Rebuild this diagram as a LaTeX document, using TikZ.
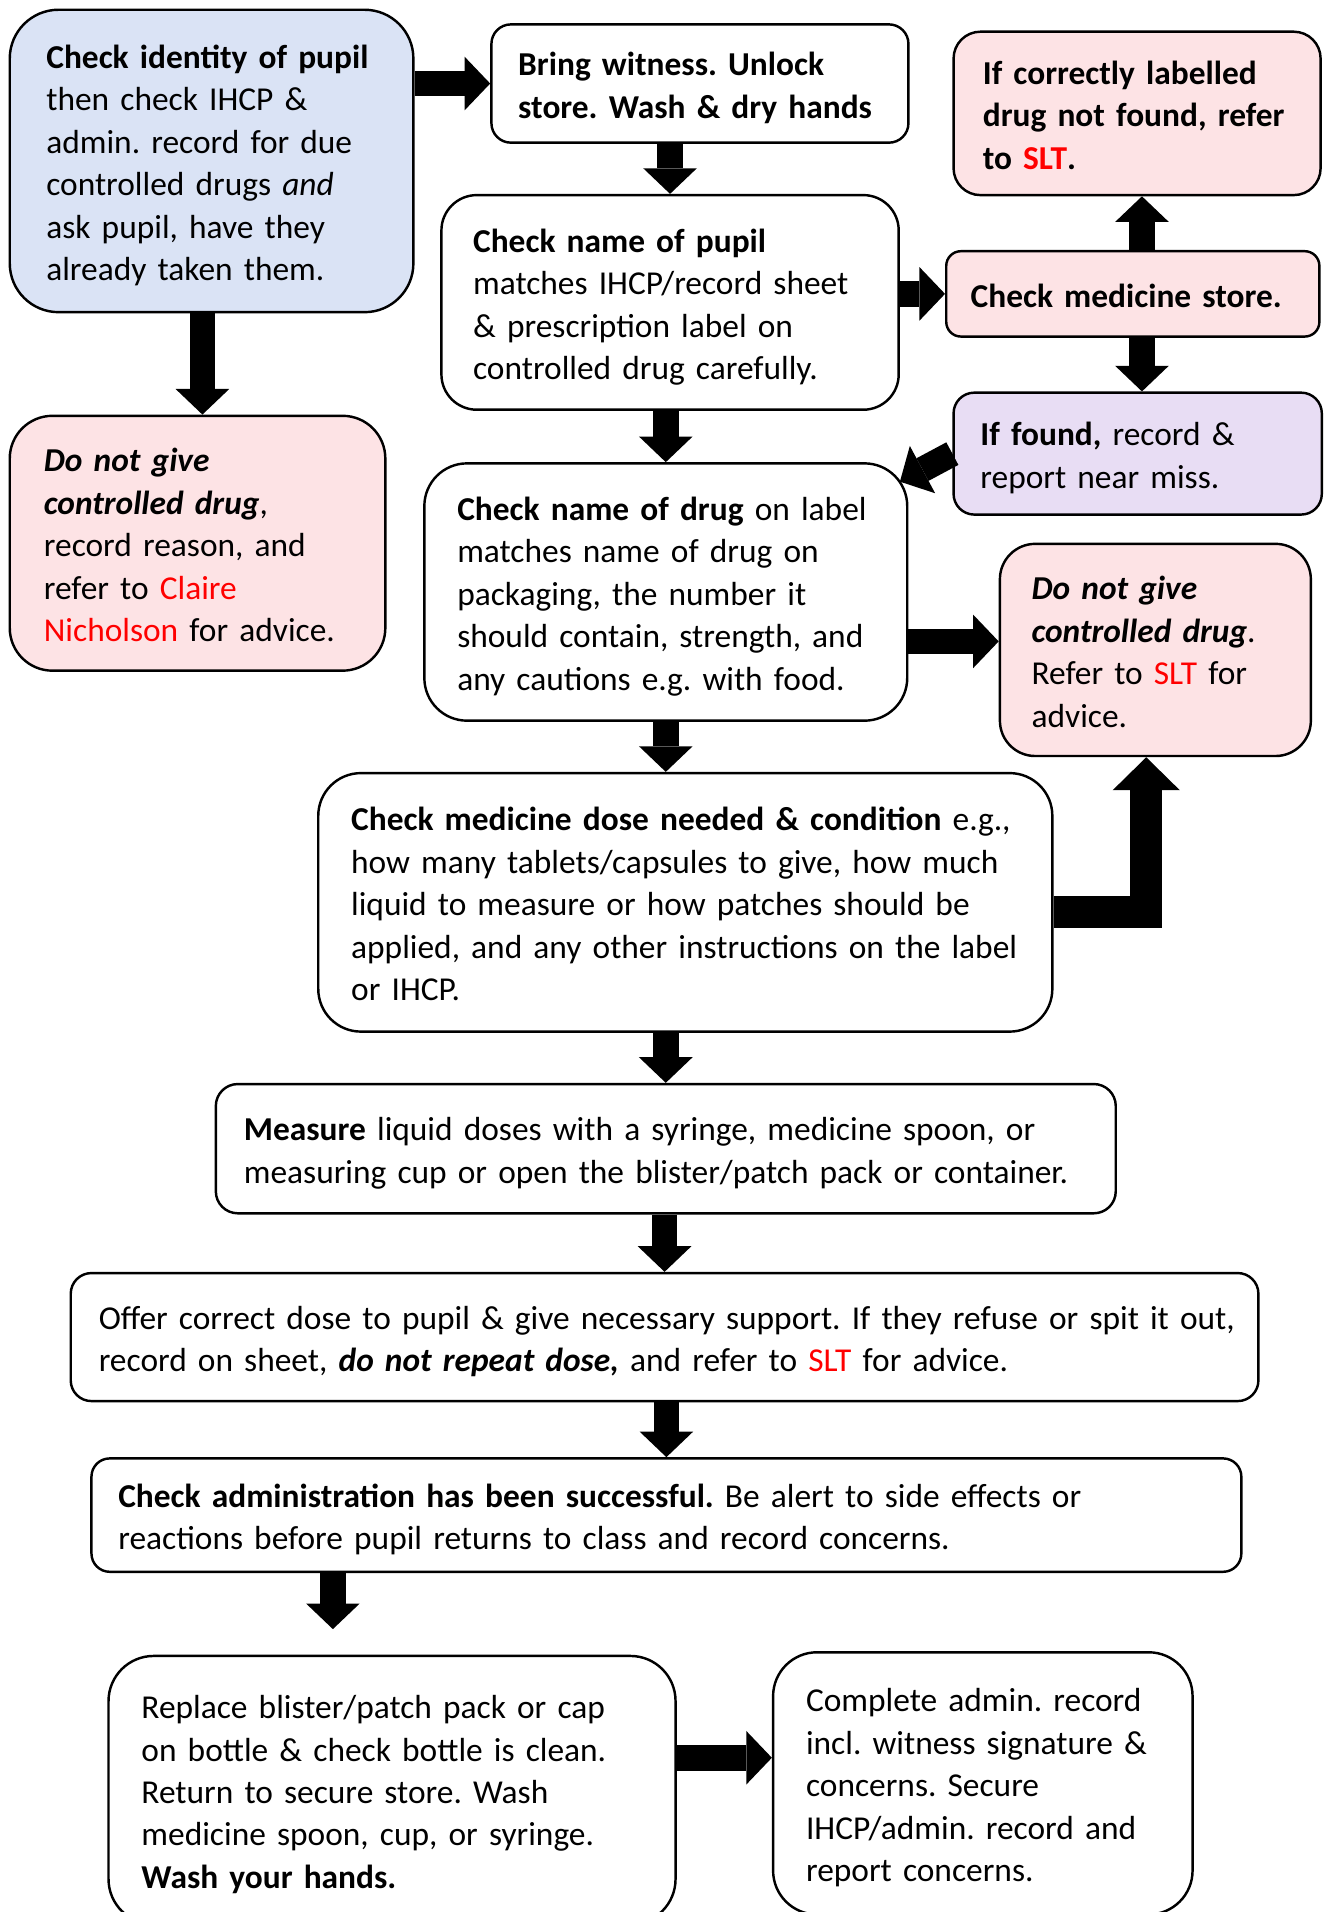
\documentclass[tikz,border=0pt]{standalone}
\usepackage{fontspec}
\setmainfont{Carlito}
\usepackage{xcolor}
\usepackage{tikz}
\usetikzlibrary{arrows.meta}
\definecolor{boxblue}{RGB}{218,227,245}
\definecolor{boxpink}{RGB}{253,227,229}
\definecolor{boxlilac}{RGB}{232,221,244}
\newcommand{\redtext}[1]{\textcolor{red}{#1}}
\frenchspacing
\hyphenpenalty=10000

\begin{document}
\begin{tikzpicture}[x=1pt, y=-1pt,
    box/.style={draw, line width=2pt, align=left, inner ysep=0pt,
        font=\fontsize{27.4}{34.8}\selectfont,
        execute at begin node={\rightskip=0pt plus 1fil minus 1000pt\rule{0pt}{32.4pt}},
        execute at end node={\rule[-10.4pt]{0pt}{10.4pt}}},
    flow/.style={line width=21pt, -{Triangle[width=44pt, length=21pt, line width=0pt]}},
    elbowflow/.style={line width=26pt, -{Triangle[width=55pt, length=27pt, line width=0pt]}}]
    \useasboundingbox (0, 0) rectangle (1087, 1568);
    \clip (0, 0) rectangle (1087, 1568);

    \node[box, fill=boxblue, rounded corners=40pt, text width=271pt, inner xsep=30pt, minimum height=248pt] (ident) at (173.5, 132)
        {\textbf{Check identity of pupil}\\ then check IHCP \&\\ admin. record for due\\ controlled drugs \textit{and}\\ ask pupil, have they\\ already taken them.};
    \node[box, rounded corners=16pt, text width=298pt, inner xsep=22pt, minimum height=97pt] (witness) at (574, 68.5)
        {\bfseries Bring witness. Unlock\\ store. Wash \& dry hands};
    \node[box, rounded corners=29pt, text width=323pt, inner xsep=26pt, minimum height=176pt] (pupil) at (549.5, 248)
        {\textbf{Check name of pupil}\\ matches IHCP/record sheet\\ \& prescription label on\\ controlled drug carefully.};
    \node[box, fill=boxpink, rounded corners=22pt, text width=253pt, inner xsep=24pt, minimum height=134pt] (notfound) at (932.5, 93)
        {\bfseries If correctly labelled\\ drug not found, refer\\ to \redtext{SLT}.};
    \node[box, fill=boxpink, rounded corners=12pt, text width=266pt, inner xsep=20pt, minimum height=70pt] (store) at (929, 241)
        {\bfseries Check medicine store.};
    \node[box, fill=boxlilac, rounded corners=17pt, text width=258pt, inner xsep=22pt, minimum height=100pt] (found) at (933, 372)
        {\textbf{If found,} record \&\\ report near miss.};
    \node[box, rounded corners=35pt, text width=342pt, inner xsep=27pt, minimum height=211pt] (drug) at (546, 485.5)
        {\textbf{Check name of drug} on label\\ matches name of drug on\\ packaging, the number it\\ should contain, strength, and\\ any cautions e.g. with food.};
    \node[box, fill=boxpink, rounded corners=35pt, text width=252pt, inner xsep=28pt, minimum height=209pt] (refuse) at (162, 445.5)
        {{\bfseries\itshape Do not give\\ controlled drug},\\ record reason, and\\ refer to \redtext{Claire}\\ \redtext{Nicholson} for advice.};
    \node[box, fill=boxpink, rounded corners=29pt, text width=203pt, inner xsep=26pt, minimum height=174pt] (nogive) at (947.5, 533)
        {{\bfseries\itshape Do not give\\ controlled drug}.\\ Refer to \redtext{SLT} for\\ advice.};
    \node[box, rounded corners=35pt, text width=548pt, inner xsep=27pt, minimum height=212pt] (dose) at (562, 740)
        {\textbf{Check medicine dose needed \& condition} e.g.,\\ how many tablets/capsules to give, how much\\ liquid to measure or how patches should be\\ applied, and any other instructions on the label\\ or IHCP.};
    \node[box, rounded corners=18pt, text width=692pt, inner xsep=23pt, minimum height=106pt] (measure) at (546, 942)
        {\textbf{Measure} liquid doses with a syringe, medicine spoon, or\\ measuring cup or open the blister/patch pack or container.};
    \node[box, rounded corners=17pt, text width=928pt, inner xsep=23pt, minimum height=105pt] (offer) at (545, 1096.5)
        {Offer correct dose to pupil \& give necessary support. If they refuse or spit it out,\\ record on sheet, \textbf{\textit{do not repeat dose,}} and refer to \redtext{SLT} for advice.};
    \node[box, rounded corners=15pt, text width=899pt, inner xsep=22pt, minimum height=93pt] (success) at (546.5, 1242.5)
        {\textbf{Check administration has been successful.} Be alert to side effects or\\ reactions before pupil returns to class and record concerns.};
    \node[box, rounded corners=37pt, text width=411pt, inner xsep=27pt, minimum height=220pt] (replace) at (321.5, 1468)
        {Replace blister/patch pack or cap\\ on bottle \& check bottle is clean.\\ Return to secure store. Wash\\ medicine spoon, cup, or syringe.\\ \textbf{Wash your hands.}};
    \node[box, rounded corners=36pt, text width=290pt, inner xsep=27pt, minimum height=215pt] (complete) at (806, 1462.5)
        {Complete admin. record\\ incl. witness signature \&\\ concerns. Secure\\ IHCP/admin. record and\\ report concerns.};

    \coordinate (ir) at ([xshift=4pt]refuse.north);
    \coordinate (sd) at ([xshift=4pt]notfound.south);
    \coordinate (sf) at ([xshift=3.5pt]found.north);
    \coordinate (fg) at ([xshift=-7pt, yshift=-16pt]drug.north east);
    \coordinate (gi) at ([yshift=7pt]nogive.west);
    \coordinate (di) at ([yshift=-8pt]dose.east);
    \coordinate (id) at ([xshift=-7.5pt]nogive.south);
    \coordinate (mn) at (273, 1336);
    \coordinate (no) at ([yshift=26.5pt]replace.east);

    \draw[flow] (ident.east |- witness.west) -- (witness.west);
    \draw[flow] (ident.south -| ir) -- (ir);
    \draw[flow] (witness.south -| pupil.north) -- (pupil.north);
    \draw[flow] (pupil.east |- store.west) -- (store.west);
    \draw[flow] (store.north -| sd) -- (sd);
    \draw[flow] (store.south -| sf) -- (sf);
    \draw[flow] (found.west) -- (fg);
    \draw[flow] (pupil.south -| drug.north) -- (drug.north);
    \draw[flow] (gi -| drug.east) -- (gi);
    \draw[flow] (drug.south) -- (drug.south |- dose.north);
    \draw[elbowflow] (di) -| (id);
    \draw[flow] (dose.south -| measure.north) -- (measure.north);
    \draw[flow] (measure.south -| offer.north) -- (offer.north);
    \draw[flow] (offer.south -| success.north) -- (success.north);
    \draw[flow] (success.south -| mn) -- (mn);
    \draw[flow] (no) -- (no -| complete.west);
\end{tikzpicture}
\end{document}
